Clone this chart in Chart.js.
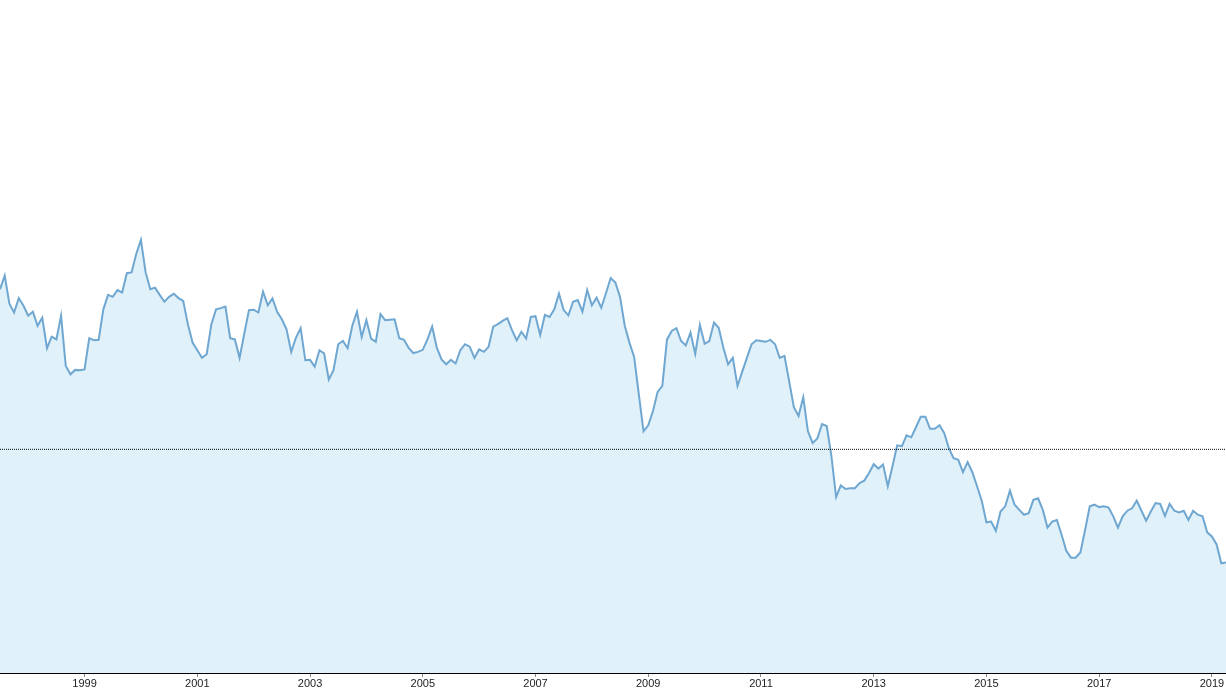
<!DOCTYPE html>
<html>
<head>
<meta charset="utf-8">
<script src="https://cdn.jsdelivr.net/npm/chart.js@4.4.1/dist/chart.umd.min.js"></script>
<style>
  html, body { margin: 0; padding: 0; background: #fff; }
  #wrap { width: 1226px; height: 690px; position: relative; }
</style>
</head>
<body>
<div id="wrap"><canvas id="grafico"></canvas></div>
<script>
// monthly series, first point July 1997, last point April 2019
const startYear = 1997;
const startMonth = 7;

const indexValues = [
  139.9, 143.3, 136.3, 134.1, 137.7, 135.8, 133.3, 134.3, 130.8, 132.8,
  125.2, 128.1, 127.4, 133.3, 120.8, 118.7, 119.8, 119.7, 119.9, 127.7,
  127.2, 127.3, 134.9, 138.5, 138.0, 139.7, 139.1, 143.9, 144.1, 148.7,
  152.2, 144.1, 139.9, 140.3, 138.5, 136.8, 138.0, 138.8, 137.7, 137.0,
  131.2, 126.6, 124.7, 122.8, 123.7, 131.2, 134.9, 135.2, 135.6, 127.7,
  127.4, 122.8, 128.8, 134.7, 134.8, 134.1, 139.3, 135.9, 137.6, 134.3,
  132.4, 129.9, 124.3, 127.8, 130.2, 122.2, 122.3, 120.6, 124.7, 123.9,
  117.4, 119.7, 126.2, 127.0, 125.2, 130.8, 134.3, 128.0, 132.2, 127.6,
  126.8, 133.7, 132.2, 132.3, 132.4, 127.7, 127.3, 125.3, 124.0, 124.3,
  124.8, 127.4, 130.6, 125.3, 122.4, 121.2, 122.3, 121.4, 124.7, 126.2,
  125.6, 122.8, 124.9, 124.3, 125.5, 130.6, 131.2, 132.0, 132.7, 129.7,
  127.2, 129.3, 127.6, 133.0, 133.2, 128.5, 133.5, 133.0, 134.9, 138.8,
  134.7, 133.4, 136.8, 137.2, 134.3, 139.7, 135.9, 137.8, 135.3, 138.9,
  142.7, 141.6, 138.0, 130.8, 126.6, 123.0, 113.7, 104.5, 106.0, 109.5,
  114.3, 115.8, 127.4, 129.5, 130.2, 127.0, 125.9, 129.1, 123.8, 131.0,
  126.3, 127.0, 131.6, 130.3, 125.3, 121.2, 122.8, 115.8, 119.3, 122.8,
  126.2, 127.2, 127.0, 126.8, 127.3, 126.2, 122.8, 123.3, 117.0, 110.5,
  108.3, 113.0, 104.5, 101.6, 102.7, 106.3, 105.8, 98.3, 88.1, 91.0,
  90.1, 90.3, 90.3, 91.6, 92.2, 94.1, 96.3, 95.2, 96.2, 90.8,
  95.8, 101.0, 100.8, 103.5, 103.0, 105.5, 108.1, 108.1, 105.1, 105.1,
  106.0, 104.1, 100.3, 97.8, 97.4, 94.3, 96.8, 94.3, 90.8, 87.2,
  81.8, 82.0, 79.7, 84.5, 85.8, 89.7, 86.2, 84.9, 83.7, 84.1,
  87.4, 87.8, 84.9, 80.5, 82.0, 82.4, 78.7, 74.7, 73.0, 73.0,
  74.3, 79.9, 85.8, 86.2, 85.6, 85.8, 85.5, 83.3, 80.5, 83.3,
  84.7, 85.3, 87.2, 84.7, 82.2, 84.5, 86.6, 86.4, 83.4, 86.4,
  84.7, 84.3, 84.7, 82.4, 84.7, 83.7, 83.3, 79.3, 78.3, 76.3,
  71.6, 71.8
];

// long-run average level (dotted line)
const averageLevel = 100;

// years that get a label on the x axis
const tickYears = ['1999', '2001', '2003', '2005', '2007', '2009', '2011', '2013', '2015', '2017', '2019'];

const meses = [];
for (let i = 0; i < indexValues.length; i++) {
  const m = startMonth - 1 + i;
  const ano = startYear + Math.floor(m / 12);
  const mes = (m % 12) + 1;
  meses.push(ano + '-' + String(mes).padStart(2, '0'));
}

const linhaMedia = indexValues.map(() => averageLevel);

const ctx = document.getElementById('grafico').getContext('2d');

new Chart(ctx, {
  type: 'line',
  data: {
    labels: meses,
    datasets: [
      {
        label: 'Índice',
        data: indexValues,
        borderColor: '#6fa7d1',
        borderWidth: 2,
        backgroundColor: '#e0f1fa',
        fill: 'start',
        pointRadius: 0,
        tension: 0,
        order: 2
      },
      {
        label: 'Média',
        data: linhaMedia,
        borderColor: '#000000',
        borderWidth: 1,
        borderDash: [1, 1],
        fill: false,
        pointRadius: 0,
        order: 1
      }
    ]
  },
  options: {
    responsive: true,
    maintainAspectRatio: false,
    animation: false,
    layout: { padding: 0 },
    plugins: {
      legend: { display: false },
      tooltip: { enabled: false }
    },
    scales: {
      x: {
        offset: false,
        grid: {
          drawOnChartArea: false,
          drawTicks: true,
          tickLength: 4,
          color: '#888888'
        },
        border: { color: '#000000', width: 2 },
        ticks: {
          autoSkip: false,
          maxRotation: 0,
          padding: 1,
          color: '#222222',
          font: { family: 'Liberation Sans, Arial, sans-serif', size: 11, lineHeight: 1 },
          callback: function (val, idx) {
            const lab = meses[idx];
            const ano = lab.slice(0, 4);
            if (lab.slice(5) === '01' && tickYears.includes(ano)) return ano;
            return null;
          }
        }
      },
      y: {
        display: false,
        min: 44.25,
        max: 212
      }
    }
  }
});
</script>
</body>
</html>
